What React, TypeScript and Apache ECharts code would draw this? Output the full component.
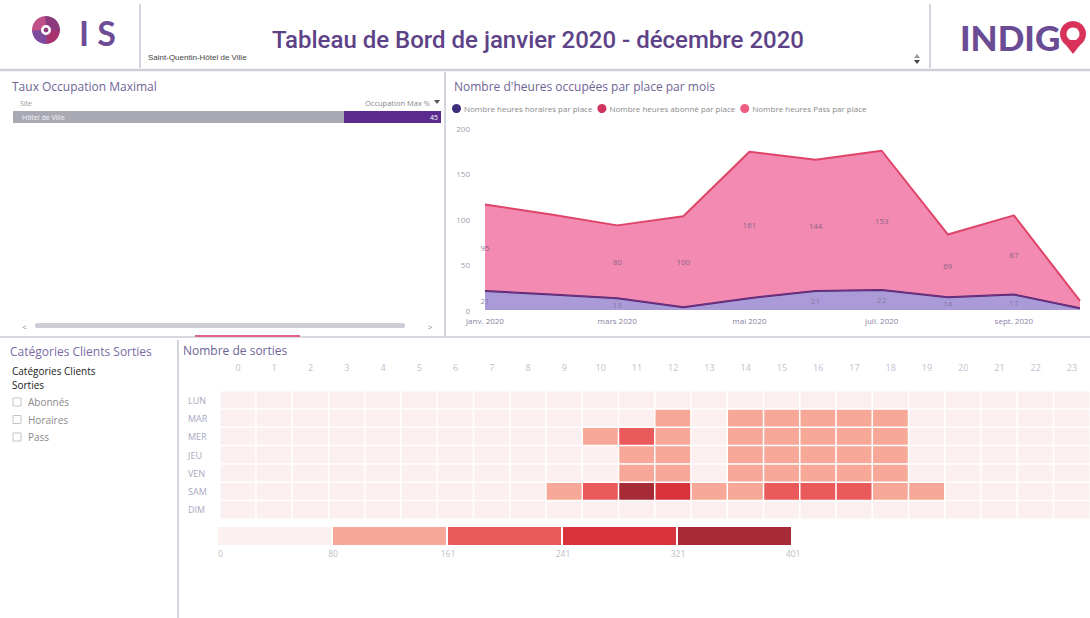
import React, { useEffect, useRef } from "react";
import * as echarts from "echarts";

// ---------- data ----------
const months = ["janv. 2020", "févr. 2020", "mars 2020", "avr. 2020", "mai 2020", "juin 2020", "juil. 2020", "août 2020", "sept. 2020", "oct. 2020"];
const horairesValues = [21, 17, 13, 3, 13, 21, 22, 14, 17, 2];
const aboValues = [0, 0, 0, 0, 0, 0, 0, 0, 0, 0];
const passValues = [95, 88, 80, 100, 161, 144, 153, 69, 87, 8];
const passLabelMonths = [0, 2, 3, 4, 5, 6, 7, 8];
const horairesLabelMonths = [0, 2, 5, 6, 7, 8];
const seriesNames = ["Nombre heures horaires par place", "Nombre heures abonné par place", "Nombre heures Pass par place"];

const hours = ["0", "1", "2", "3", "4", "5", "6", "7", "8", "9", "10", "11", "12", "13", "14", "15", "16", "17", "18", "19", "20", "21", "22", "23"];
const days = ["LUN", "MAR", "MER", "JEU", "VEN", "SAM", "DIM"];
const lun = [2, 1, 0, 0, 0, 1, 3, 8, 15, 22, 30, 38, 45, 40, 35, 42, 44, 46, 40, 30, 18, 10, 6, 3];
const mar = [2, 1, 0, 0, 0, 1, 4, 10, 20, 35, 50, 70, 95, 60, 90, 100, 98, 105, 92, 60, 30, 14, 7, 3];
const mer = [3, 1, 0, 0, 0, 1, 4, 12, 25, 60, 110, 205, 120, 70, 110, 120, 115, 118, 100, 65, 32, 15, 8, 4];
const jeu = [2, 1, 0, 0, 0, 1, 4, 11, 22, 45, 70, 100, 105, 65, 95, 102, 100, 104, 95, 60, 28, 13, 7, 3];
const ven = [3, 1, 0, 0, 0, 1, 4, 10, 24, 48, 72, 98, 110, 68, 98, 105, 104, 108, 96, 62, 30, 16, 9, 4];
const sam = [5, 2, 1, 0, 0, 1, 3, 15, 45, 100, 200, 380, 290, 120, 110, 215, 225, 210, 140, 95, 50, 25, 12, 6];
const dim = [6, 3, 1, 0, 0, 0, 1, 4, 10, 18, 28, 40, 42, 30, 30, 35, 38, 36, 30, 22, 14, 8, 5, 3];
const dayValues = [lun, mar, mer, jeu, ven, sam, dim];

const pieceBounds = [0, 80, 161, 241, 321, 401];
const pieceColors = ["#fcefef", "#f7a898", "#ea5a5b", "#d8323a", "#a62b37"];
const legendTicks = ["0", "80", "161", "241", "321", "401"];

const occupationSite = "Hôtel de Ville";
const occupationValue = 45;

// ---------- helpers ----------
const FONT = "Open Sans";
function txt(text: string, x: number, y: number, size: number, color: string, opts: any = {}) {
  return {
    type: "text",
    x,
    y,
    silent: true,
    style: {
      text,
      fontSize: size,
      fontFamily: opts.family || FONT,
      fontWeight: opts.weight || "normal",
      fill: color,
      align: opts.align || "left",
      verticalAlign: "middle",
    },
  };
}
function ln(x1: number, y1: number, x2: number, y2: number, color: string, w: number) {
  return { type: "line", silent: true, shape: { x1, y1, x2, y2 }, style: { stroke: color, lineWidth: w } };
}
function rc(x: number, y: number, w: number, h: number, fill: string, extra: any = {}) {
  return { type: "rect", silent: true, shape: { x, y, width: w, height: h, r: extra.r || 0 }, style: { fill, stroke: extra.stroke || null, lineWidth: extra.lineWidth || 0 } };
}

export default function App() {
  const ref = useRef<HTMLDivElement>(null);
  useEffect(() => {
    if (!ref.current) return;
    const chart = echarts.init(ref.current, null, { renderer: "svg" });

    const heatData: number[][] = [];
    dayValues.forEach((row, d) => row.forEach((v, h) => heatData.push([h, d, v])));

    const cum1 = horairesValues.map((v, i) => v + aboValues[i]);
    const passLabelData = passLabelMonths.map((i) => [i, cum1[i] + passValues[i] / 2, passValues[i]]);
    const horLabelData = horairesLabelMonths.map((i) => [i, horairesValues[i] / 2, horairesValues[i]]);

    const titleColor = "#6e6496";
    const divider = "#d4d4dc";

    const logoColors = ["#a8336f", "#7d4a9e", "#c0508a", "#8e3a7e"];
    const logoSectors = logoColors.map((c, i) => ({
      type: "sector",
      silent: true,
      shape: { cx: 46, cy: 30, r: 14, r0: 5, startAngle: (i * Math.PI) / 2 - 0.05, endAngle: ((i + 1) * Math.PI) / 2 + 0.05 },
      style: { fill: c },
    }));

    const checkboxes = ["Abonnés", "Horaires", "Pass"].flatMap((label, i) => [
      rc(13, 398 + i * 17.5, 8, 8, "#fff", { stroke: "#c4c4c4", lineWidth: 1 }),
      txt(label, 28, 402 + i * 17.5, 10, "#8a8a8a"),
    ]);

    const graphic: any[] = [
      // header
      ...logoSectors,
      { type: "circle", silent: true, shape: { cx: 46, cy: 30, r: 2.4 }, style: { fill: "#8e3a7e" } },
      txt("I S", 79, 32, 34, "#6f4c96", { weight: "bold", family: "Lato" }),
      ln(140, 4, 140, 68, divider, 2),
      txt("Saint-Quentin-Hôtel de Ville", 148, 57, 8, "#444", { family: "Liberation Sans" }),
      txt("Tableau de Bord de janvier 2020 - décembre 2020", 538, 40, 24, "#5d4287", { weight: 500, family: "Roboto", align: "center" }),
      { type: "polygon", silent: true, shape: { points: [[914, 58], [920, 58], [917, 54]] }, style: { fill: "#999" } },
      { type: "polygon", silent: true, shape: { points: [[914, 60], [920, 60], [917, 64]] }, style: { fill: "#444" } },
      ln(930, 4, 930, 68, divider, 2),
      txt("INDIG", 960, 37, 35, "#6a4c94", { weight: 900, family: "Lato" }),
      { type: "polygon", silent: true, shape: { points: [[1062, 40], [1084, 40], [1073, 54]] }, style: { fill: "#d8325a" } },
      { type: "ring", silent: true, shape: { cx: 1073, cy: 34, r: 13, r0: 6.5 }, style: { fill: "#d8325a" } },
      ln(0, 70, 1090, 70, "#cfcfd8", 2.5),

      // top-left panel
      txt("Taux Occupation Maximal", 12, 86, 12, titleColor),
      txt("Site", 20, 103, 7, "#999"),
      txt("Occupation Max %", 430, 103, 7.5, "#888", { align: "right" }),
      { type: "polygon", silent: true, shape: { points: [[434, 100], [440, 100], [437, 104]] }, style: { fill: "#555" } },
      rc(13, 111, 331, 12, "#a9a9b3"),
      rc(344, 111, 97, 12, "#5a2a8e"),
      txt(occupationSite, 22, 117, 7, "#f4f4f8"),
      txt(String(occupationValue), 438, 117, 7, "#ffffff", { align: "right" }),
      rc(35, 323, 370, 5, "#cdcdd5", { r: 2 }),
      txt("<", 22, 326, 8, "#888"),
      txt(">", 428, 326, 8, "#888"),
      ln(445, 72, 445, 336, divider, 2),

      // top-right panel
      txt("Nombre d'heures occupées par place par mois", 454, 86, 12, titleColor),

      // separators
      ln(0, 337, 1090, 337, "#d8d8e0", 2),
      ln(195, 336, 300, 336, "#e0648a", 2),
      ln(178, 340, 178, 618, divider, 2),

      // bottom-left panel
      txt("Catégories Clients Sorties", 10, 351, 12, "#7a6aa4"),
      txt("Catégories Clients", 12, 371, 10, "#222"),
      txt("Sorties", 12, 385, 10, "#222"),
      ...checkboxes,

      // heatmap
      txt("Nombre de sorties", 183, 350, 12, titleColor),
      ...legendTicks.map((t, i) => txt(t, 218 + i * 115, 553, 8.5, "#bdbdc6", { align: i === 0 ? "left" : "center" })),
    ];

    const option: any = {
      animation: false,
      backgroundColor: "#ffffff",
      textStyle: { fontFamily: FONT },
      graphic,
      legend: {
        data: seriesNames,
        left: 452,
        top: 104,
        icon: "circle",
        itemWidth: 9,
        itemHeight: 9,
        itemGap: 5,
        selectedMode: false,
        textStyle: { fontSize: 8, color: "#8a8a8a", padding: [0, 0, 0, -2] },
        padding: 0,
      },
      grid: [
        { left: 485, right: 10, top: 128, height: 182 },
        { left: 220, width: 870, top: 391, height: 128 },
      ],
      xAxis: [
        {
          gridIndex: 0,
          type: "category",
          data: months,
          boundaryGap: false,
          axisLine: { show: false },
          axisTick: { show: false },
          axisLabel: { interval: 1, fontSize: 8, color: "#8a80a2", margin: 6 },
        },
        {
          gridIndex: 1,
          type: "category",
          data: hours,
          position: "top",
          axisLine: { show: false },
          axisTick: { show: false },
          splitLine: { show: false },
          axisLabel: { fontSize: 9, color: "#c2c2cc", margin: 19 },
        },
      ],
      yAxis: [
        {
          gridIndex: 0,
          type: "value",
          min: 0,
          max: 200,
          interval: 50,
          splitLine: { show: false },
          axisLine: { show: false },
          axisTick: { show: false },
          axisLabel: { fontSize: 8, color: "#a0a0aa", margin: 15 },
        },
        {
          gridIndex: 1,
          type: "category",
          data: days,
          inverse: true,
          axisLine: { show: false },
          axisTick: { show: false },
          axisLabel: { fontSize: 9, color: "#a9a9c2", align: "left", margin: 32 },
        },
      ],
      visualMap: {
        type: "piecewise",
        seriesIndex: 5,
        orient: "horizontal",
        left: 218,
        top: 527,
        padding: 0,
        itemWidth: 113,
        itemHeight: 18,
        itemGap: 2,
        itemSymbol: "rect",
        showLabel: false,
        selectedMode: false,
        pieces: pieceColors.map((c, i) => ({ gte: pieceBounds[i], lt: pieceBounds[i + 1], color: c })),
      },
      series: [
        {
          name: seriesNames[0],
          type: "line",
          stack: "total",
          data: horairesValues,
          symbol: "none",
          itemStyle: { color: "#3d2d7c" },
          lineStyle: { color: "#4b2d83", width: 2 },
          areaStyle: { color: "#aa9bd8", opacity: 1 },
        },
        {
          name: seriesNames[1],
          type: "line",
          stack: "total",
          data: aboValues,
          symbol: "none",
          itemStyle: { color: "#d2335f" },
          lineStyle: { color: "#8a3070", width: 0.8 },
          areaStyle: { color: "#d2335f", opacity: 1 },
        },
        {
          name: seriesNames[2],
          type: "line",
          stack: "total",
          data: passValues,
          symbol: "none",
          itemStyle: { color: "#ee5d80" },
          lineStyle: { color: "#df4468", width: 2 },
          areaStyle: { color: "#f28ab2", opacity: 1 },
        },
        {
          type: "scatter",
          data: passLabelData,
          symbolSize: 0,
          silent: true,
          z: 10,
          clip: false,
          label: { show: true, position: "inside", formatter: (p: any) => String(p.value[2]), fontSize: 8, color: "#6e5a7c" },
        },
        {
          type: "scatter",
          data: horLabelData,
          symbolSize: 0,
          silent: true,
          z: 10,
          clip: false,
          label: { show: true, position: "inside", formatter: (p: any) => String(p.value[2]), fontSize: 8, color: "#7a6f92" },
        },
        {
          type: "heatmap",
          xAxisIndex: 1,
          yAxisIndex: 1,
          data: heatData,
          itemStyle: { borderColor: "#ffffff", borderWidth: 1.5 },
          emphasis: { disabled: true },
          label: { show: false },
        },
      ],
    };
    chart.setOption(option);
    return () => chart.dispose();
  }, []);

  return (
    <div
      ref={ref}
      style={{ position: "absolute", left: 0, top: 0, width: 1090, height: 618, background: "#fff" }}
    />
  );
}
